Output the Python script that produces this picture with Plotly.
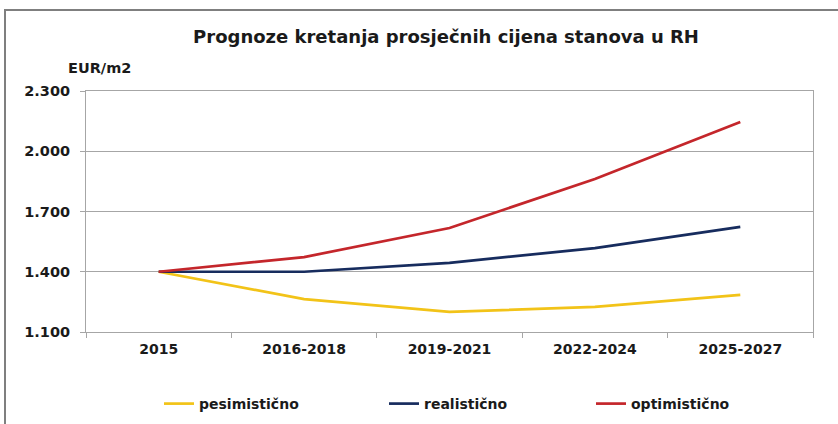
import plotly.graph_objects as go

categories = ["2015", "2016-2018", "2019-2021", "2022-2024", "2025-2027"]
pesimisticno = [1400, 1264, 1200, 1225, 1285]
realisticno = [1400, 1400, 1444, 1518, 1623]
optimisticno = [1400, 1473, 1618, 1862, 2146]
y_ticks = [1100, 1400, 1700, 2000, 2300]

FONT = "DejaVu Sans"
TXT = "#1a1a1a"
GRID = "#a6a6a6"

fig = go.Figure()
series = [
    ("pesimistično", pesimisticno, "#F2C318", "legend"),
    ("realistično", realisticno, "#172C5E", "legend2"),
    ("optimistično", optimisticno, "#C4262B", "legend3"),
]
for name, vals, col, lg in series:
    fig.add_trace(go.Scatter(x=categories, y=vals, mode="lines", name=name,
                             line=dict(color=col, width=2.7), legend=lg))

def leg(xpx):
    return dict(x=xpx / 838, xref="container", y=(424 - 404) / 424, yref="container",
                xanchor="left", yanchor="middle",
                orientation="h", bgcolor="rgba(0,0,0,0)", borderwidth=0,
                font=dict(family=FONT, size=14, color=TXT, weight="bold"),
                itemwidth=30, tracegroupgap=0)

fig.update_layout(
    width=838, height=424,
    margin=dict(l=86, r=25, t=91, b=92, autoexpand=False),
    paper_bgcolor="white", plot_bgcolor="white",
    separators=",.",
    showlegend=True,
    legend=leg(159), legend2=leg(384), legend3=leg(591),
    title=dict(text="Prognoze kretanja prosječnih cijena stanova u RH",
               x=(446 - 86) / 727, xref="paper", xanchor="center",
               y=1 - 37 / 424, yref="container", yanchor="middle",
               font=dict(family=FONT, size=18, color=TXT, weight="bold")),
    xaxis=dict(type="category", range=[-0.5, 4.5], showgrid=False,
               showline=True, linecolor=GRID, linewidth=1, mirror=True,
               ticks="outside", tickson="boundaries", ticklen=5, tickcolor=GRID,
               ticklabelstandoff=4,
               tickfont=dict(family=FONT, size=14, color=TXT, weight="bold")),
    yaxis=dict(range=[1100, 2300], tickvals=y_ticks, tickformat=",d",
               showgrid=True, gridcolor=GRID, gridwidth=1, zeroline=False,
               showline=True, linecolor=GRID, linewidth=1, mirror=True,
               ticks="outside", ticklen=5, tickcolor=GRID, ticklabelstandoff=7,
               tickfont=dict(family=FONT, size=14.5, color=TXT, weight="bold")),
    annotations=[dict(text="EUR/m2", xref="paper", yref="paper",
                      x=(99 - 86) / 727, y=(332 - 68) / 241, xanchor="center", yanchor="middle",
                      showarrow=False,
                      font=dict(family=FONT, size=14.5, color=TXT, weight="bold"))],
    shapes=[dict(type="rect", xref="paper", yref="paper",
                 x0=(5 - 86) / 727, x1=1.2, y0=-0.6, y1=(332 - 10) / 241,
                 line=dict(color="#7f7f7f", width=2), fillcolor="rgba(0,0,0,0)", layer="below")],
)

fig.write_html("out.html", config={"displayModeBar": False},
               post_script="document.body.style.margin='0';")
